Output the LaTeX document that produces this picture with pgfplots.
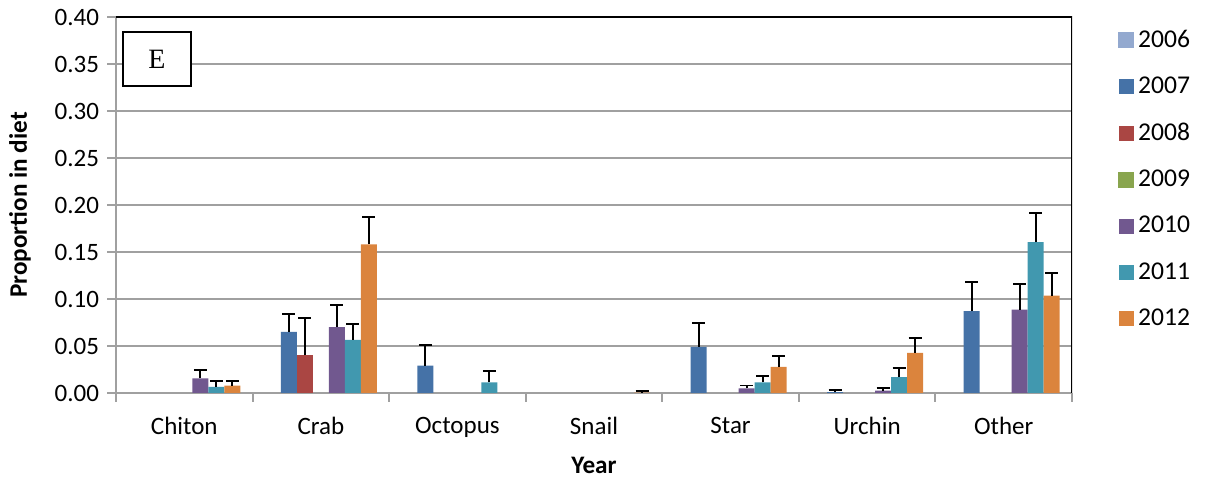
\documentclass[border=0pt]{standalone}
\usepackage{pgfplots}
\pgfplotsset{compat=1.18}
\usepackage{fontspec}
\setmainfont{Carlito}
\newfontfamily\serifE{Liberation Serif}
\definecolor{c2006}{HTML}{93A9CF}
\definecolor{c2007}{HTML}{4572A7}
\definecolor{c2008}{HTML}{AA4643}
\definecolor{c2009}{HTML}{89A54E}
\definecolor{c2010}{HTML}{71588F}
\definecolor{c2011}{HTML}{4198AF}
\definecolor{c2012}{HTML}{DB843D}
\definecolor{gridgray}{HTML}{A0A0A0}
\begin{document}
\begin{tikzpicture}
\begin{axis}[name=ax,
  width=478pt, height=188pt, scale only axis,
  xmin=-0.5, xmax=6.5, ymin=0, ymax=0.40,
  ytick={0,0.05,...,0.41},
  yticklabel style={/pgf/number format/fixed, /pgf/number format/fixed zerofill, /pgf/number format/precision=2, /pgf/number format/assume math mode=true},
  yticklabel style={font=\fontsize{12.5}{14}\selectfont, xshift=-0.5pt},
  xtick={0,...,6},
  xticklabels={Chiton,Crab,Octopus,Snail,Star,Urchin,Other},
  xticklabel style={font=\fontsize{12.5}{14}\selectfont, yshift=-4pt},
  minor xtick={-0.5,0.5,...,6.6},
  x tick style={draw=none},
  minor x tick style={draw=gridgray, line width=1pt},
  y tick style={draw=gridgray, line width=1pt},
  major tick length=4.5pt, minor tick length=4.5pt,
  tick align=outside, tick pos=left,
  ymajorgrids, grid style={gridgray, line width=1pt},
  axis line style={gridgray, line width=1pt},
  axis x line*=bottom, axis y line*=left,
  ylabel={\bfseries Proportion in diet},
  ylabel style={font=\fontsize{12.6}{14}\selectfont, yshift=5pt},
  xlabel={\bfseries Year},
  xlabel style={font=\fontsize{12.6}{14}\selectfont, yshift=-3pt},
  ybar, bar width=8pt,
  legend style={draw=none, fill=none, at={(1.0,0.988)}, anchor=north west, xshift=20pt,
    font=\fontsize{12.8}{14}\selectfont, row sep=9.3pt, legend cell align=left},
  legend image code/.code={\fill[#1] (0pt,-3.75pt) rectangle (7.5pt,3.75pt);},
  error bars/y dir=plus, error bars/y explicit,
  error bars/error mark=|,
  error bars/error bar style={draw=black, line width=0.95pt},
  error bars/error mark options={draw=black, line width=0.95pt, mark size=3.25pt},
]
\addlegendimage{c2006}\addlegendentry{2006}
\addplot[fill=c2007, draw=none, bar shift=-16pt] coordinates {
 (1,0.065) +- (0,0.019)
 (2,0.029) +- (0,0.022)
 (4,0.049) +- (0,0.025)
 (5,0.0008) +- (0,0.002)
 (6,0.087) +- (0,0.031)
};\addlegendentry{2007}
\addplot[fill=c2008, draw=none, bar shift=-8pt] coordinates {
 (1,0.040) +- (0,0.040)
};\addlegendentry{2008}
\addlegendimage{c2009}\addlegendentry{2009}
\addplot[fill=c2010, draw=none, bar shift=8pt] coordinates {
 (0,0.0156) +- (0,0.009)
 (1,0.070) +- (0,0.024)
 (4,0.005) +- (0,0.003)
 (5,0.0025) +- (0,0.0025)
 (6,0.0887) +- (0,0.027)
};\addlegendentry{2010}
\addplot[fill=c2011, draw=none, bar shift=16pt] coordinates {
 (0,0.0064) +- (0,0.006)
 (1,0.0564) +- (0,0.017)
 (2,0.0114) +- (0,0.0116)
 (4,0.0114) +- (0,0.0066)
 (5,0.017) +- (0,0.0096)
 (6,0.1606) +- (0,0.031)
};\addlegendentry{2011}
\addplot[fill=c2012, draw=none, bar shift=24pt] coordinates {
 (0,0.0078) +- (0,0.0046)
 (1,0.158) +- (0,0.029)
 (3,0.0005) +- (0,0.002)
 (4,0.0277) +- (0,0.0117)
 (5,0.0426) +- (0,0.016)
 (6,0.1035) +- (0,0.024)
};\addlegendentry{2012}
\draw[black, line width=1pt] (rel axis cs:0,1) -- (rel axis cs:1,1) -- (rel axis cs:1,0);
\node[draw=black, line width=1pt, fill=white, minimum width=34pt, minimum height=27pt, inner sep=0pt,
  font=\serifE\fontsize{14}{16}\selectfont] at (rel axis cs:0.0429,0.887) {E};
\end{axis}
\pgfresetboundingbox
\path ([xshift=-58pt,yshift=-45pt]ax.south west) rectangle ([xshift=67pt,yshift=8.5pt]ax.north east);
\end{tikzpicture}
\end{document}
